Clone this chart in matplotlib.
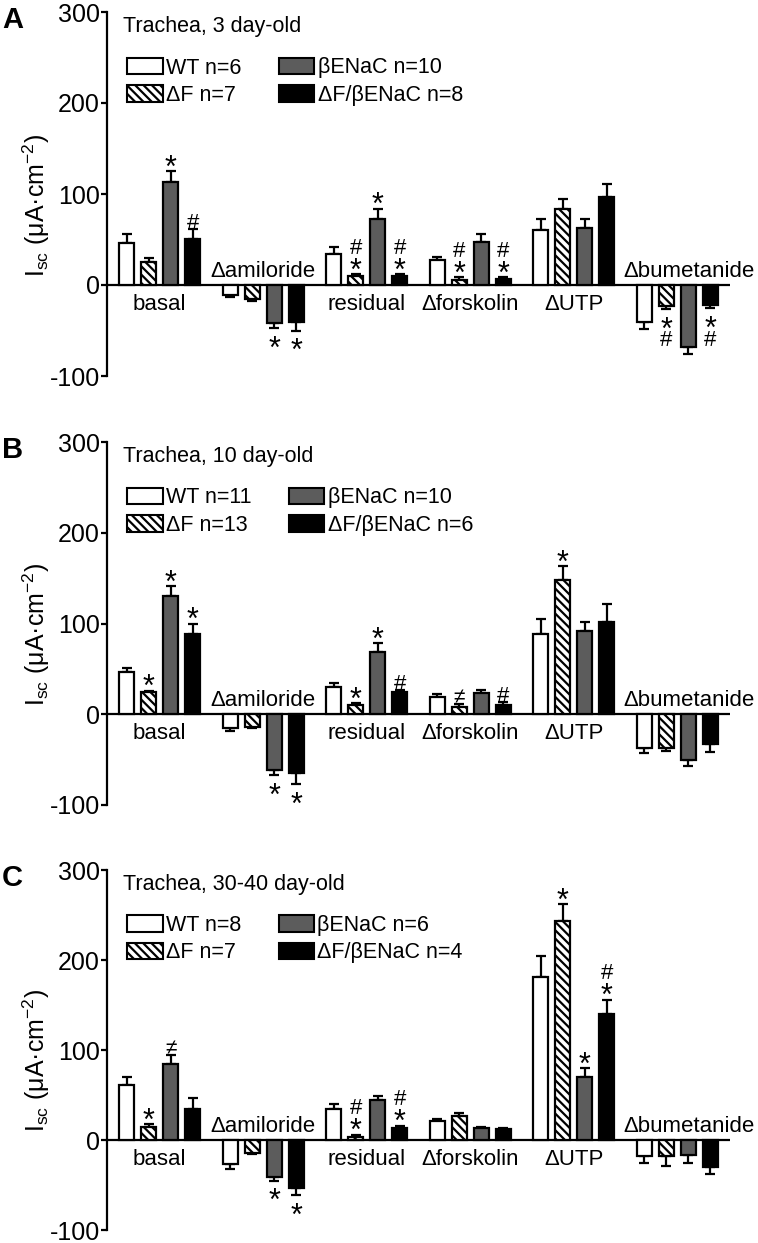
import matplotlib
matplotlib.use('Agg')
import matplotlib.pyplot as plt
from matplotlib.patches import Patch

plt.rcParams['font.family'] = ['Liberation Sans', 'DejaVu Sans']
plt.rcParams['mathtext.fontset'] = 'custom'
plt.rcParams['mathtext.rm'] = 'Liberation Sans'
plt.rcParams['mathtext.it'] = 'Liberation Sans:italic'
plt.rcParams['axes.unicode_minus'] = False
plt.rcParams['hatch.linewidth'] = 1.6

categories = ['basal', 'Δamiloride', 'residual', 'Δforskolin', 'ΔUTP', 'Δbumetanide']
label_above = [False, True, False, False, False, True]
label_dx = [0, 0, 0, 0, 0, 12]  # pixels
groups = ['WT', 'ΔF', 'βENaC', 'ΔF/βENaC']
colors = ['white', 'white', '#5c5c5c', 'black']
hatches = ['', '\\\\\\\\', '', '']

panel_letters = ['A', 'B', 'C']
titles = ['Trachea, 3 day-old', 'Trachea, 10 day-old', 'Trachea, 30-40 day-old']

# n per group
n_A = [6, 7, 10, 8]
n_B = [11, 13, 10, 6]
n_C = [8, 7, 6, 4]

# mean Isc per category (rows) and group (cols)
mean_A = [[46, 25, 113, 51], [-11, -15, -42, -41], [34, 10, 72, 10],
          [27, 6, 47, 7], [60, 84, 63, 97], [-41, -23, -68, -22]]
sem_A = [[10, 5, 12, 10], [2, 3, 5, 9], [8, 2, 12, 2],
         [4, 3, 9, 2], [12, 11, 9, 14], [7, 3, 8, 3]]
marks_A = [['', '', '*', '#'], ['', '', '*', '*'], ['', '*#', '*', '*#'],
           ['', '*#', '', '*#'], ['', '', '', ''], ['', '*#', '', '*#']]

mean_B = [[47, 24, 130, 88], [-15, -14, -61, -65], [30, 10, 69, 24],
          [19, 8, 23, 10], [88, 148, 92, 102], [-37, -37, -50, -33]]
sem_B = [[4, 2, 11, 12], [3, 1, 6, 12], [4, 2, 9, 3],
         [3, 3, 4, 3], [17, 15, 10, 19], [6, 3, 7, 9]]
marks_B = [['', '*', '*', '*'], ['', '', '*', '*'], ['', '*', '*', '#'],
           ['', '≠', '', '#'], ['', '*', '', ''], ['', '', '', '']]

mean_C = [[61, 15, 84, 34], [-27, -14, -41, -53], [34, 3, 44, 13],
          [21, 27, 13, 12], [181, 243, 70, 140], [-18, -18, -17, -30]]
sem_C = [[9, 3, 10, 13], [5, 2, 4, 8], [6, 3, 5, 3],
         [2, 3, 1, 1], [23, 19, 10, 16], [8, 11, 8, 8]]
marks_C = [['', '*', '≠', ''], ['', '', '*', '*'], ['', '*#', '', '*#'],
           ['', '', '', ''], ['', '*', '*', '*#'], ['', '', '', '']]

panels = [(n_A, mean_A, sem_A, marks_A),
          (n_B, mean_B, sem_B, marks_B),
          (n_C, mean_C, sem_C, marks_C)]

W, H = 758, 1243
axes_px = [(12, 376), (442, 805), (870, 1230)]  # top, bottom in pixels
left_px, right_px = 107, 730

bar_w = 0.145
pitch = 0.213
# per-symbol font size and visual centre (fraction of em above baseline)
mark_fs = {'*': 22, '#': 16, '≠': 15}
vcenter = {'*': 0.45, '#': 0.35, '≠': 0.33}

fig = plt.figure(figsize=(W / 100, H / 100), dpi=100)

for k, (ns, means, sems, marks) in enumerate(panels):
    top, bot = axes_px[k]
    ax = fig.add_axes([left_px / W, 1 - bot / H, (right_px - left_px) / W, (bot - top) / H])

    for g in range(4):
        xs = [i + (g - 1.5) * pitch for i in range(len(categories))]
        vals = [m[g] for m in means]
        errs = [s[g] for s in sems]
        ax.bar(xs, vals, width=bar_w, color=colors[g], hatch=hatches[g],
               edgecolor='black', linewidth=1.6, zorder=3)
        lo = [e if v < 0 else 0 for v, e in zip(vals, errs)]
        hi = [e if v >= 0 else 0 for v, e in zip(vals, errs)]
        ax.errorbar(xs, vals, yerr=[lo, hi], fmt='none', ecolor='black',
                    elinewidth=1.6, capsize=3.6, capthick=1.6, zorder=2)
        for i, (x, v, e) in enumerate(zip(xs, vals, errs)):
            sign = 1 if v >= 0 else -1
            for j, ch in enumerate(marks[i][g]):
                if sign > 0:
                    c = 8 + 20 * j
                else:
                    c = -(16 + 14 * j)
                off = c - vcenter[ch] * mark_fs[ch] * 100 / 72
                ax.annotate(ch, xy=(x, v + sign * e), xytext=(0, off),
                            textcoords='offset pixels', ha='center', va='baseline',
                            fontsize=mark_fs[ch], zorder=4)

    for i, cat in enumerate(categories):
        ax.annotate(cat, xy=(i, 0), xytext=(label_dx[i], 8 if label_above[i] else -25),
                    textcoords='offset pixels', ha='center', va='baseline',
                    fontsize=16, annotation_clip=False)

    ax.axhline(0, color='black', lw=1.6, zorder=1)
    ax.set_xlim(-0.51, 5.51)
    ax.set_ylim(-100, 300)
    ax.set_xticks([])
    ax.set_yticks([-100, 0, 100, 200, 300])
    ax.tick_params(axis='y', length=4, width=1.6, labelsize=18, pad=1)
    for s in ['top', 'right', 'bottom']:
        ax.spines[s].set_visible(False)
    ax.spines['left'].set_linewidth(1.6)

    ax.set_ylabel(r'I$_{\mathrm{sc}}$ (μA·cm$^{\mathrm{-2}}$)', fontsize=18)
    ax.yaxis.set_label_coords(-0.088, 0.47)

    ax.text(0.026, 278, titles[k], transform=ax.get_yaxis_transform(),
            fontsize=15.5, va='baseline')

    handles = [Patch(facecolor=colors[g], edgecolor='black', hatch=hatches[g],
                     linewidth=1.5, label=f'{groups[g]} n={ns[g]}') for g in range(4)]
    ax.legend(handles=handles, ncol=2, loc='upper left',
              bbox_to_anchor=((127 - left_px) / (right_px - left_px), (250 + 100) / 400),
              frameon=False, borderpad=0, borderaxespad=0, handlelength=1.65,
              handleheight=0.8, handletextpad=0.15, columnspacing=1.75,
              labelspacing=0.3, fontsize=15.5)

    fig.text(2 / W, 1 - (top - 6) / H, panel_letters[k], fontsize=21,
             fontweight='bold', va='top', ha='left')

fig.savefig('out.png', dpi=100)
